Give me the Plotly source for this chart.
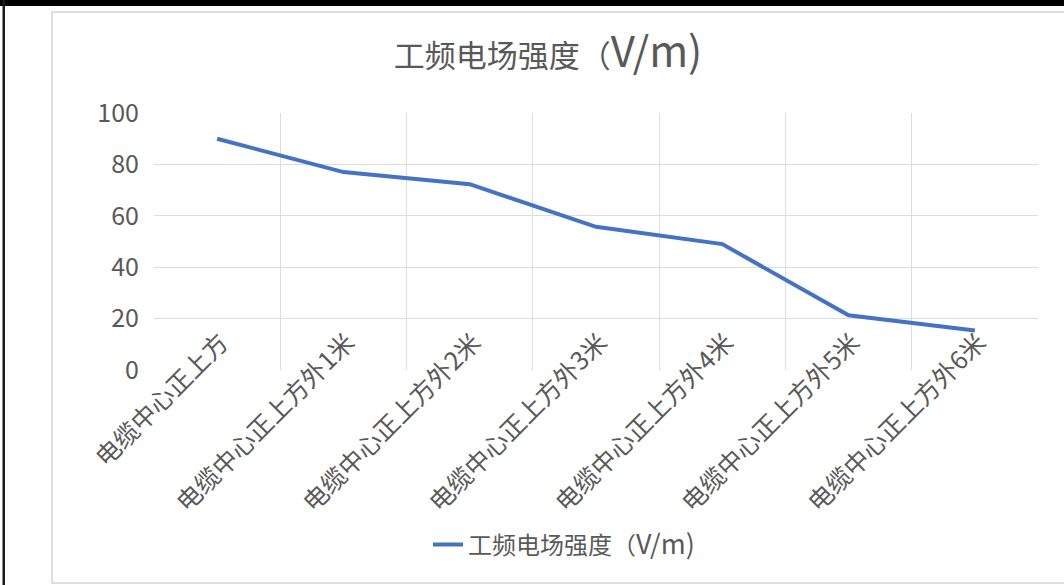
import plotly.graph_objects as go

# Measurement positions along the cable and the measured field strength
categories = [
    "电缆中心正上方",
    "电缆中心正上方外1米",
    "电缆中心正上方外2米",
    "电缆中心正上方外3米",
    "电缆中心正上方外4米",
    "电缆中心正上方外5米",
    "电缆中心正上方外6米",
]
field_strength = [90, 77, 72.3, 55.7, 49, 21.3, 15.4]
series_label_cjk = "工频电场强度（"
series_label_unit = "V/m)"
y_ticks = [0, 20, 40, 60, 80, 100]

W, H = 1064, 585
L, R, T, B = 154, 1038, 113, 370  # plot area in pixels
FONT = "Noto Sans CJK SC, Noto Sans, sans-serif"
TEXT = "#595959"


def px_x(p):
    return (p - L) / (R - L)


def px_y(p):
    return (B - p) / (B - T)


def mixed_label(cjk_size, unit_size):
    # the unit part is set in a larger Latin face
    return (f"<span style='font-size:{cjk_size}px'>{series_label_cjk}</span>"
            f"<span style='font-size:{unit_size}px'>{series_label_unit}</span>")


fig = go.Figure()
fig.add_trace(go.Scatter(
    x=categories,
    y=field_strength,
    mode="lines",
    name=mixed_label(24, 27),
    line=dict(color="#4472C4", width=4),
))

shapes = [
    # outlined chart panel
    dict(type="rect", xref="paper", yref="paper",
         x0=px_x(52), x1=px_x(1075), y0=px_y(583), y1=px_y(12),
         line=dict(color="#d4d4d4", width=1.5), fillcolor="rgba(0,0,0,0)", layer="below"),
    # dark window edges
    dict(type="rect", xref="paper", yref="paper",
         x0=px_x(-5), x1=px_x(1070), y0=px_y(6), y1=px_y(-5),
         line=dict(width=0), fillcolor="#000000"),
    dict(type="rect", xref="paper", yref="paper",
         x0=px_x(2.5), x1=px_x(5), y0=px_y(590), y1=px_y(0),
         line=dict(width=0), fillcolor="#1a1a1a"),
]

fig.update_layout(
    width=W, height=H,
    margin=dict(l=L, r=W - R, t=T, b=H - B),
    paper_bgcolor="white",
    plot_bgcolor="white",
    font=dict(family=FONT, color=TEXT),
    title=dict(
        text=mixed_label(31, 42),
        x=px_x(548), xref="paper", xanchor="center",
        y=1 - 56 / H, yref="container", yanchor="middle",
        font=dict(size=31, color=TEXT, family=FONT),
    ),
    xaxis=dict(
        type="category",
        range=[-0.5, len(categories) - 0.5],
        tickson="boundaries",
        showgrid=True, gridcolor="#dddddd", gridwidth=1,
        showline=False, zeroline=False, ticks="",
        tickangle=-45,
        tickfont=dict(size=25, color=TEXT, family=FONT),
        ticklabelstandoff=-48,
        ticklabelshift=4,
    ),
    yaxis=dict(
        range=[0, 100],
        tickvals=y_ticks,
        showgrid=True, gridcolor="#dddddd", gridwidth=1,
        showline=False, zeroline=False, ticks="",
        tickfont=dict(size=25, color=TEXT, family=FONT),
        ticklabelstandoff=14,
    ),
    showlegend=True,
    legend=dict(
        orientation="h",
        x=px_x(428), xanchor="left",
        y=px_y(545), yanchor="middle",
        font=dict(size=24, color=TEXT, family=FONT),
        bgcolor="rgba(0,0,0,0)",
    ),
    shapes=shapes,
)

fig.write_html("out.html")
